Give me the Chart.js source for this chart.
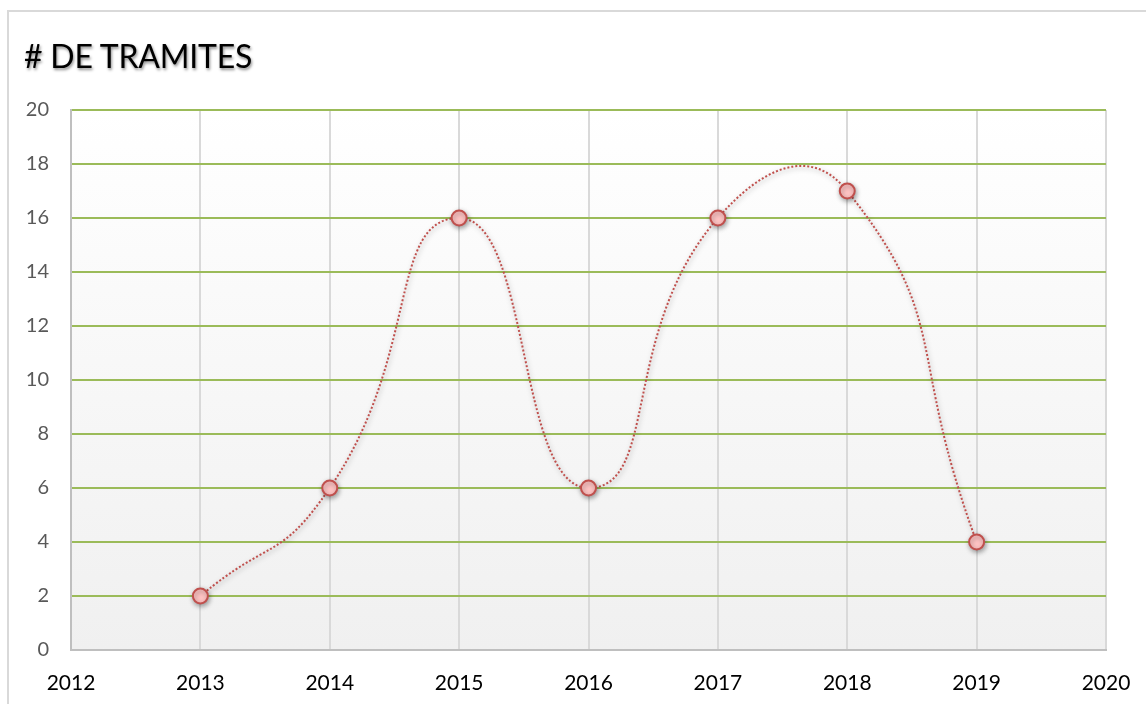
<!DOCTYPE html>
<html>
<head>
<meta charset="utf-8">
<script src="https://cdn.jsdelivr.net/npm/chart.js@4"></script>
<style>
  body { margin: 0; background: #fff; }
  #wrap { position: relative; width: 1146px; height: 704px; overflow: hidden; }
  #frame { position: absolute; left: 7px; top: 10px; width: 1160px; height: 720px; border: 2px solid #d9d9d9; box-sizing: border-box; }
  #title { position: absolute; left: 24px; top: 36px; font-family: Lato, sans-serif; font-size: 32px; color: #000;
           text-shadow: 1px 2px 3px rgba(0,0,0,0.45); letter-spacing: -0.2px; }
  canvas { position: absolute; left: 0; top: 0; }
</style>
</head>
<body>
<div id="wrap">
  <div id="frame"></div>
  <canvas id="tramites" width="1146" height="704"></canvas>
  <div id="title"># DE TRAMITES</div>
</div>
<script>
const years = [2013, 2014, 2015, 2016, 2017, 2018, 2019]
const tramites = [2, 6, 16, 6, 16, 17, 4]
const yearTicks = [2012, 2013, 2014, 2015, 2016, 2017, 2018, 2019, 2020]
const countTicks = [0, 2, 4, 6, 8, 10, 12, 14, 16, 18, 20]

const points = years.map((y, i) => ({ x: y, y: tramites[i] }))

// gradient behind the plot area
const plotBackground = {
    id: 'plotBackground',
    beforeDraw(chart) {
        const { ctx, chartArea: a } = chart
        const g = ctx.createLinearGradient(0, a.top, 0, a.bottom)
        g.addColorStop(0, '#ffffff')
        g.addColorStop(1, '#f0f0f0')
        ctx.save()
        ctx.fillStyle = g
        ctx.fillRect(a.left, a.top, a.right - a.left, a.bottom - a.top)
        ctx.restore()
    }
}

// soft shadow under line and markers
const markerShadow = {
    id: 'markerShadow',
    beforeDatasetsDraw(chart) {
        const ctx = chart.ctx
        ctx.save()
        ctx.shadowColor = 'rgba(0,0,0,0.35)'
        ctx.shadowBlur = 5
        ctx.shadowOffsetX = 1
        ctx.shadowOffsetY = 2
    },
    afterDatasetsDraw(chart) {
        chart.ctx.restore()
    }
}

const ctx = document.querySelector('#tramites')
new Chart(ctx, {
    type: 'line',
    data: {
        datasets: [{
            label: '# DE TRAMITES',
            data: points,
            borderColor: '#c0504d',
            borderWidth: 2,
            borderDash: [2, 2],
            tension: 0.55,
            fill: false,
            pointRadius: 7.5,
            pointBorderWidth: 2,
            pointBackgroundColor: '#ffc4c4',
            pointBorderColor: '#c0504d'
        }]
    },
    options: {
        responsive: false,
        animation: false,
        layout: { padding: { left: 0, top: 110, right: 40, bottom: 0 } },
        plugins: {
            legend: { display: false },
            tooltip: { enabled: false }
        },
        elements: { line: { capBezierPoints: false } },
        scales: {
            x: {
                type: 'linear',
                min: yearTicks[0],
                max: yearTicks[yearTicks.length - 1],
                afterBuildTicks: s => { s.ticks = yearTicks.map(v => ({ value: v })) },
                afterFit: s => { s.height = 54; s.paddingLeft = 0; s.paddingRight = 0 },
                grid: { color: '#d9d9d9', lineWidth: 2, drawTicks: false },
                border: { color: '#bfbfbf', width: 2 },
                ticks: {
                    padding: 21,
                    color: '#000',
                    font: { family: 'Lato', size: 21 },
                    callback: v => String(v)
                }
            },
            y: {
                min: countTicks[0],
                max: countTicks[countTicks.length - 1],
                afterBuildTicks: s => { s.ticks = countTicks.map(v => ({ value: v })) },
                afterFit: s => { s.width = 71 },
                grid: { color: '#9bbb59', lineWidth: 2, drawTicks: false },
                border: { color: '#bfbfbf', width: 2 },
                ticks: {
                    padding: 22,
                    color: '#595959',
                    font: { family: 'Lato', size: 20 }
                }
            }
        }
    },
    plugins: [plotBackground, markerShadow]
})
</script>
</body>
</html>
